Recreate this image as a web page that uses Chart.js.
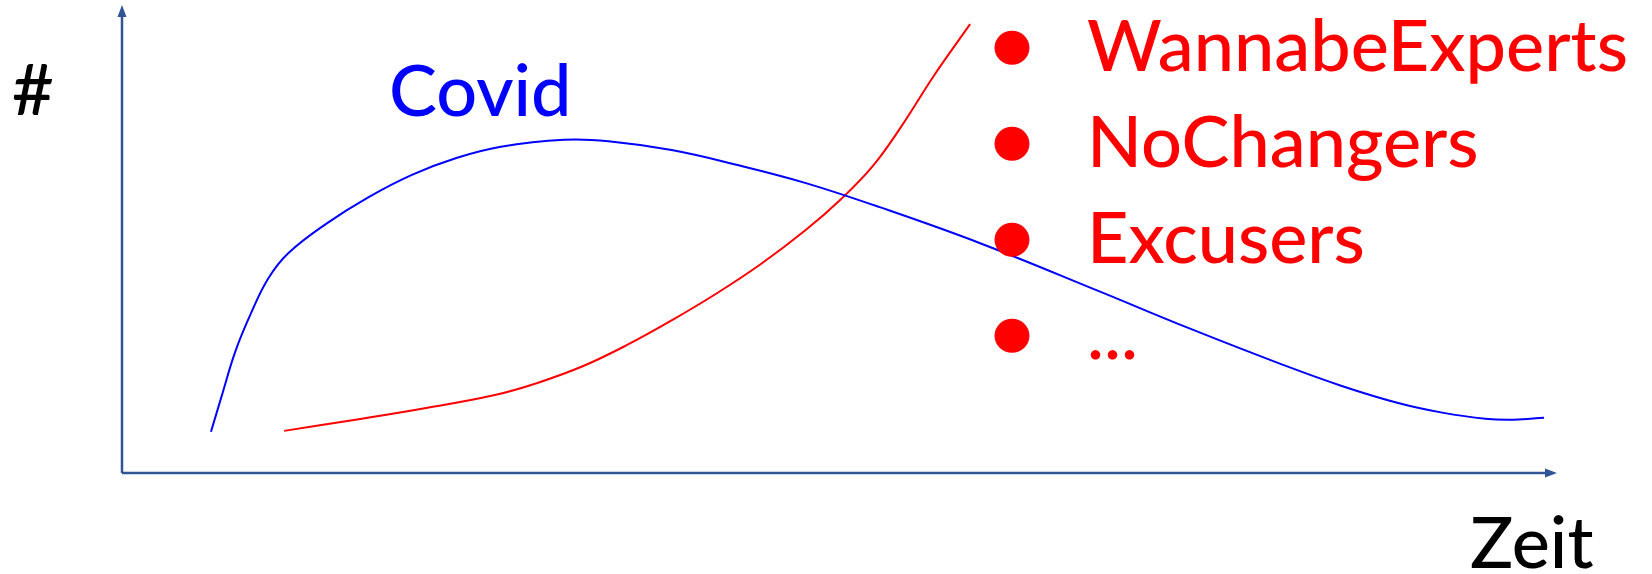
<!DOCTYPE html>
<html>
<head>
<meta charset="utf-8">
<style>
  body { margin: 0; background: #fff; }
  canvas { display: block; }
</style>
</head>
<body>
<canvas id="calc" width="1652" height="574"></canvas>
<script src="https://cdn.jsdelivr.net/npm/chart.js@4/dist/chart.umd.min.js"></script>
<script>
// curves, x and y in 0..100 of the axis box
var covid_x = [6.2, 7.0, 7.9, 9.0, 10.2, 11.6, 14.3, 17.1, 20.2, 23.3, 26.4, 30.8, 33.9, 38.3, 42.9, 47.6, 52.8, 59.8, 68.2, 74.3, 81.0, 85.0, 89.0, 92.0, 95.0, 97.0, 99.1];
var covid_y = [8.8, 17.0, 26.0, 34.2, 41.6, 47.0, 53.4, 58.8, 63.7, 67.3, 69.7, 71.2, 70.9, 69.0, 65.8, 62.0, 56.8, 49.1, 38.7, 31.0, 23.0, 18.6, 14.9, 12.9, 11.6, 11.4, 11.8];
var other_x = [11.3, 16.5, 21.2, 25.9, 29.0, 32.1, 35.1, 38.3, 41.4, 44.5, 47.6, 50.1, 52.3, 54.3, 56.6, 59.1];
var other_y = [9.0, 11.5, 13.9, 16.6, 19.3, 22.8, 27.2, 32.6, 38.3, 44.6, 51.8, 58.5, 65.5, 74.0, 85.0, 95.9];
var groups = ["WannabeExperts", "NoChangers", "Excusers", "..."];
var y_label = "#";
var x_label = "Zeit";
var series_label = "Covid";

var AXIS = "#2F5597";
var FONT = "500 72px Lato, 'Open Sans', sans-serif";

function pts(xs, ys) {
	var out = [];
	for (var i = 0; i < xs.length; i++) out.push({x: xs[i], y: ys[i]});
	return out;
}

// axes with arrows + the free text of the slide
var sketch = {
	id: "sketch",
	afterDatasetsDraw: function(chart) {
		var ctx = chart.ctx;
		var sx = chart.scales.x, sy = chart.scales.y;
		var x0 = sx.getPixelForValue(0), x1 = sx.getPixelForValue(100);
		var y0 = sy.getPixelForValue(0), y1 = sy.getPixelForValue(100);
		ctx.save();
		ctx.strokeStyle = AXIS;
		ctx.fillStyle = AXIS;
		ctx.lineWidth = 2.5;
		ctx.beginPath();
		ctx.moveTo(x0, y0); ctx.lineTo(x0, y1 + 10);
		ctx.moveTo(x0, y0); ctx.lineTo(x1 - 10, y0);
		ctx.stroke();
		ctx.beginPath();
		ctx.moveTo(x0, y1); ctx.lineTo(x0 - 4.5, y1 + 12); ctx.lineTo(x0 + 4.5, y1 + 12);
		ctx.closePath(); ctx.fill();
		ctx.beginPath();
		ctx.moveTo(x1, y0); ctx.lineTo(x1 - 12, y0 - 4.5); ctx.lineTo(x1 - 12, y0 + 4.5);
		ctx.closePath(); ctx.fill();

		ctx.font = FONT;
		ctx.textBaseline = "alphabetic";
		ctx.textAlign = "left";
		ctx.fillStyle = "#000";
		ctx.fillText(y_label, 12, 115);
		ctx.fillText(x_label, 1470, 568);
		ctx.fillStyle = "#0000FF";
		ctx.fillText(series_label, 389, 116);

		ctx.fillStyle = "#FF0000";
		for (var i = 0; i < groups.length; i++) {
			var cy = 47.7 + i * 96;
			ctx.beginPath();
			ctx.ellipse(1012, cy, 17.5, 17, 0, 0, Math.PI * 2);
			ctx.fill();
			ctx.fillText(groups[i], 1087, cy + 23.5);
		}
		ctx.restore();
	}
};

function draw() {
	var ctx = document.getElementById("calc").getContext("2d");
	new Chart(ctx, {
		type: "scatter",
		data: {
			datasets: [{
				label: series_label,
				data: pts(covid_x, covid_y),
				showLine: true,
				borderColor: "#0000FF",
				borderWidth: 2,
				pointRadius: 0,
				tension: 0.4
			}, {
				label: "people",
				data: pts(other_x, other_y),
				showLine: true,
				borderColor: "#FF0000",
				borderWidth: 2,
				pointRadius: 0,
				tension: 0.4
			}]
		},
		options: {
			responsive: false,
			animation: false,
			devicePixelRatio: 1,
			layout: { padding: { left: 122, top: 5, right: 95, bottom: 101 } },
			plugins: { legend: { display: false }, tooltip: { enabled: false } },
			scales: {
				x: { type: "linear", min: 0, max: 100, display: false },
				y: { type: "linear", min: 0, max: 100, display: false }
			}
		},
		plugins: [sketch]
	});
}

if (document.fonts && document.fonts.load) {
	document.fonts.load(FONT).then(draw, draw);
} else {
	draw();
}
</script>
</body>
</html>
